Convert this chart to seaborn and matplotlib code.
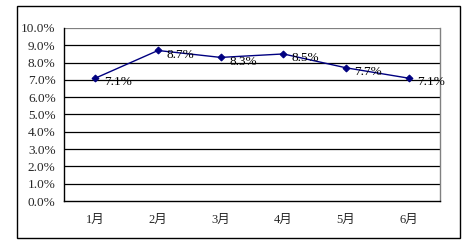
import matplotlib
matplotlib.use("Agg")
import matplotlib.pyplot as plt
import seaborn as sns
import pandas as pd
from matplotlib.patches import Rectangle

months = ["1月", "2月", "3月", "4月", "5月", "6月"]
values = [7.1, 8.7, 8.3, 8.5, 7.7, 7.1]
labels = ["7.1%", "8.7%", "8.3%", "8.5%", "7.7%", "7.1%"]
yticks = [0, 1, 2, 3, 4, 5, 6, 7, 8, 9, 10]
yticklabels = ["0.0%", "1.0%", "2.0%", "3.0%", "4.0%", "5.0%", "6.0%", "7.0%", "8.0%", "9.0%", "10.0%"]

sns.set_style("white")
plt.rcParams['font.family'] = ['Liberation Serif', 'Noto Sans CJK SC', 'DejaVu Sans']

df = pd.DataFrame({"month": months, "value": values, "x": range(len(months))})

fig = plt.figure(figsize=(4.68, 2.43), dpi=100)
fig.patch.set_facecolor("white")
fig.patches.append(Rectangle((17/468, 1-238/243), (460-17)/468, (238-6)/243,
                             transform=fig.transFigure, fill=False, edgecolor="black", linewidth=1.0))
ax = fig.add_axes([64/468, 1-201/243, (440-64)/468, (201-28)/243])

ax.set_yticks(yticks)
ax.set_ylim(0, 10)
for y in yticks[1:-1]:
    ax.axhline(y, color="black", linewidth=0.9, zorder=1)
ax.axhline(10, color="#808080", linewidth=0.9, zorder=1)

sns.lineplot(data=df, x="x", y="value", ax=ax, color="#000080", linewidth=1.0,
             marker="D", markersize=3.5, markeredgecolor="#000080", zorder=3)

for xi, v, lab in zip(df["x"], values, labels):
    ax.annotate(lab, (xi, v), xytext=(6, -3), textcoords="offset points",
                ha="left", va="center", fontsize=9.5, color="black", zorder=4)

ax.set_xlim(-0.5, 5.5)
ax.set_xticks(range(len(months)))
ax.set_xticklabels(months, fontsize=9)
ax.set_xticks([i - 0.5 for i in range(len(months) + 1)], minor=True)
ax.tick_params(axis="x", which="major", length=0, pad=9)
ax.tick_params(axis="x", which="minor", length=3, direction="in", width=0.8, color="black")
ax.set_yticklabels(yticklabels, fontsize=9.5)
ax.tick_params(axis="y", length=0, pad=6)
ax.set_xlabel("")
ax.set_ylabel("")

for s in ["left", "bottom"]:
    ax.spines[s].set_color("black")
    ax.spines[s].set_linewidth(1.0)
ax.spines["right"].set_color("#808080")
ax.spines["right"].set_linewidth(1.0)
ax.spines["top"].set_visible(False)
ax.grid(False)

fig.savefig("out.png", dpi=100)
